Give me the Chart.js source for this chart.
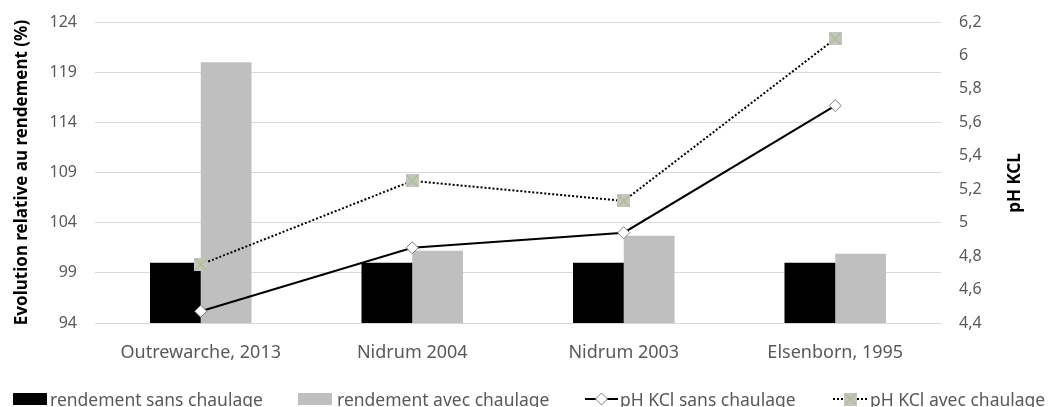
<!DOCTYPE html>
<html>
<head>
<meta charset="utf-8">
<script src="https://cdn.jsdelivr.net/npm/chart.js@4.4.1/dist/chart.umd.min.js"></script>
<style>
  html, body { margin: 0; padding: 0; background: #fff; }
  canvas { display: block; }
</style>
</head>
<body>
<canvas id="chart" width="1049" height="407"></canvas>
<script>
// data
const sites = ['Outrewarche, 2013', 'Nidrum 2004', 'Nidrum 2003', 'Elsenborn, 1995'];
const rendementSans = [100, 100, 100, 100];
const rendementAvec = [120, 101.2, 102.7, 100.9];
const phSans = [4.47, 4.85, 4.94, 5.7];
const phAvec = [4.75, 5.25, 5.13, 6.1];
const seriesNames = ['rendement sans chaulage', 'rendement avec chaulage', 'pH KCl sans chaulage', 'pH KCl avec chaulage'];

const FONT = "'Noto Sans', sans-serif";
const TXT = '#595959';

// square gray marker with a light green cross
function crossMarker(size) {
    const c = document.createElement('canvas');
    c.width = size; c.height = size;
    const g = c.getContext('2d');
    g.fillStyle = '#c4c4c0';
    g.fillRect(0, 0, size, size);
    g.strokeStyle = '#a8c08c';
    g.lineWidth = 1.2;
    g.beginPath();
    g.moveTo(1, 1); g.lineTo(size - 1, size - 1);
    g.moveTo(size - 1, 1); g.lineTo(1, size - 1);
    g.stroke();
    return c;
}
const xMark = crossMarker(13);

function fmtPh(v) {
    return String(Number(v.toFixed(1))).replace('.', ',');
}

// keep the plot top where the reference has it (ticks padding would push it down)
function fixVertical(scale, w) {
    scale.width = w;
    scale.paddingTop = 0;
    scale.paddingBottom = 0;
}

// legend + right title drawn by hand (Excel style line+marker, title reading upward)
const extras = {
    id: 'extras',
    afterDraw(chart) {
        const ctx = chart.ctx;
        const y = 399;
        const base = 406;
        ctx.save();

        // right axis title
        ctx.save();
        ctx.translate(1015, 183);
        ctx.rotate(-Math.PI / 2);
        ctx.font = 'bold 17px ' + FONT;
        ctx.fillStyle = '#000';
        ctx.textAlign = 'center';
        ctx.textBaseline = 'middle';
        ctx.fillText('pH KCL', 0, 0);
        ctx.restore();

        ctx.font = '17.5px ' + FONT;
        ctx.textBaseline = 'alphabetic';

        // bars
        ctx.fillStyle = '#000';
        ctx.fillRect(13, y - 6, 34, 12);
        ctx.fillStyle = TXT;
        ctx.fillText(seriesNames[0], 50, base);

        ctx.fillStyle = '#bfbfbf';
        ctx.fillRect(298, y - 6, 34, 12);
        ctx.fillStyle = TXT;
        ctx.fillText(seriesNames[1], 337, base);

        // solid line with diamond
        ctx.strokeStyle = '#000';
        ctx.lineWidth = 2;
        ctx.beginPath();
        ctx.moveTo(585, y); ctx.lineTo(618, y);
        ctx.stroke();
        ctx.fillStyle = '#fff';
        ctx.strokeStyle = '#7f7f7f';
        ctx.lineWidth = 1;
        ctx.beginPath();
        ctx.moveTo(601.5, y - 6); ctx.lineTo(607.5, y); ctx.lineTo(601.5, y + 6); ctx.lineTo(595.5, y);
        ctx.closePath();
        ctx.fill(); ctx.stroke();
        ctx.fillStyle = TXT;
        ctx.fillText(seriesNames[2], 620, base);

        // dotted line with cross marker
        ctx.strokeStyle = '#000';
        ctx.lineWidth = 2;
        ctx.setLineDash([2, 2]);
        ctx.beginPath();
        ctx.moveTo(833, y); ctx.lineTo(867, y);
        ctx.stroke();
        ctx.setLineDash([]);
        ctx.drawImage(xMark, 844, y - 6.5);
        ctx.fillStyle = TXT;
        ctx.fillText(seriesNames[3], 870, base);
        ctx.restore();
    }
};

new Chart(document.getElementById('chart'), {
    data: {
        labels: sites,
        datasets: [
            {
                type: 'line',
                label: seriesNames[3],
                data: phAvec,
                yAxisID: 'yPh',
                borderColor: '#000',
                borderWidth: 2,
                borderDash: [2, 2],
                pointStyle: xMark,
                pointRadius: 7,
                order: 0
            },
            {
                type: 'line',
                label: seriesNames[2],
                data: phSans,
                yAxisID: 'yPh',
                borderColor: '#000',
                borderWidth: 2,
                pointStyle: 'rectRot',
                pointRadius: 6,
                pointBackgroundColor: '#fff',
                pointBorderColor: '#7f7f7f',
                pointBorderWidth: 1,
                order: 1
            },
            {
                type: 'bar',
                label: seriesNames[0],
                data: rendementSans,
                yAxisID: 'yRend',
                backgroundColor: '#000',
                categoryPercentage: 0.48,
                barPercentage: 1,
                order: 2
            },
            {
                type: 'bar',
                label: seriesNames[1],
                data: rendementAvec,
                yAxisID: 'yRend',
                backgroundColor: '#bfbfbf',
                categoryPercentage: 0.48,
                barPercentage: 1,
                order: 3
            }
        ]
    },
    options: {
        responsive: false,
        animation: false,
        layout: { padding: { top: 22, left: 0, right: 0, bottom: 0 } },
        plugins: {
            legend: { display: false },
            tooltip: { enabled: false }
        },
        scales: {
            x: {
                grid: { display: false, drawTicks: false },
                border: { display: false },
                ticks: { color: TXT, font: { family: FONT, size: 18 }, padding: 19, maxRotation: 0 },
                afterFit(scale) { scale.height = 84; }
            },
            yRend: {
                position: 'left',
                min: 94,
                max: 124,
                ticks: { stepSize: 5, color: TXT, font: { family: FONT, size: 16 }, padding: 18 },
                grid: { color: '#d9d9d9', lineWidth: 1, drawTicks: false },
                border: { display: false },
                title: {
                    display: true,
                    text: 'Evolution relative au rendement (%)',
                    color: '#000',
                    font: { family: FONT, size: 17, weight: 'bold' },
                    padding: { top: 12, bottom: 0 }
                },
                afterFit(scale) { fixVertical(scale, 95); }
            },
            yPh: {
                position: 'right',
                min: 4.4,
                max: 6.2,
                ticks: {
                    stepSize: 0.2,
                    color: TXT,
                    font: { family: FONT, size: 16 },
                    padding: 18,
                    callback: v => fmtPh(v)
                },
                grid: { display: false, drawTicks: false },
                border: { display: false },
                afterFit(scale) { fixVertical(scale, 108); }
            }
        }
    },
    plugins: [extras]
});
</script>
</body>
</html>
